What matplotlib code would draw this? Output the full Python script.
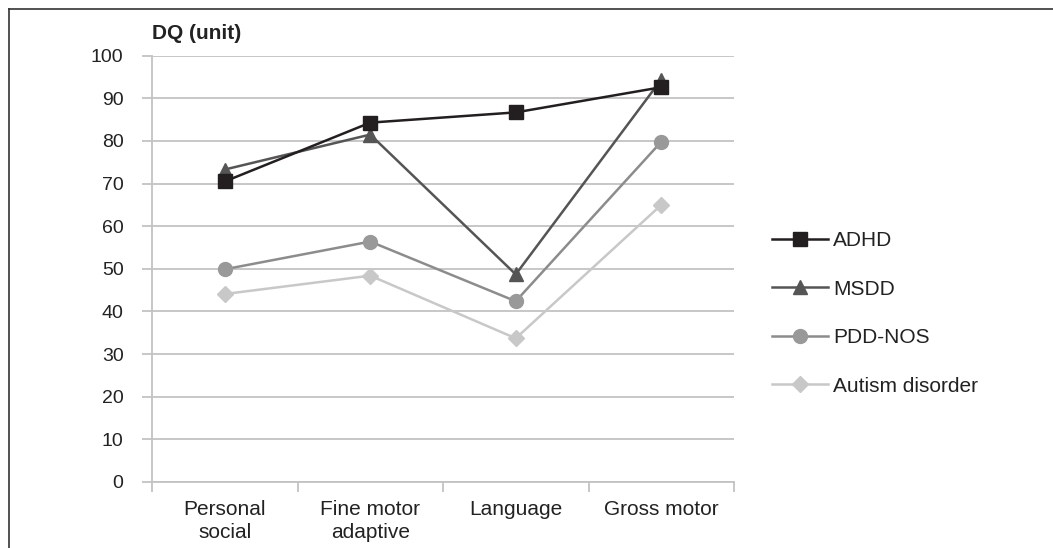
import matplotlib
matplotlib.use("Agg")
import matplotlib.pyplot as plt
from matplotlib.lines import Line2D

plt.rcParams['font.family'] = ['Liberation Sans', 'DejaVu Sans']

categories = ["Personal\nsocial", "Fine motor\nadaptive", "Language", "Gross motor"]
adhd = [70.5, 84.3, 86.7, 92.6]
msdd = [73.3, 81.5, 48.7, 94.4]
pdd_nos = [49.9, 56.4, 42.4, 79.8]
autism = [44.1, 48.4, 33.7, 65.0]
yticks = [0, 10, 20, 30, 40, 50, 60, 70, 80, 90, 100]

W, H = 1053, 548
fig = plt.figure(figsize=(W / 100, H / 100), dpi=100)

# outer frame (top and left only visible)
fig.add_artist(Line2D([9 / W, 1.0], [1 - 9 / H, 1 - 9 / H], color='#333333', lw=1.2, transform=fig.transFigure))
fig.add_artist(Line2D([9 / W, 9 / W], [0, 1 - 9 / H], color='#333333', lw=1.2, transform=fig.transFigure))

left, right, bottom, top = 152 / W, 734 / W, 1 - 482 / H, 1 - 55.7 / H
ax = fig.add_axes([left, bottom, right - left, top - bottom])

x = list(range(len(categories)))
series = [
    ("ADHD", adhd, '#231f20', '#231f20', 's', 10),
    ("MSDD", msdd, '#555555', '#555555', '^', 10),
    ("PDD-NOS", pdd_nos, '#8c8c8c', '#999999', 'o', 10),
    ("Autism disorder", autism, '#c8c8c8', '#c8c8c8', 'D', 8),
]
handles = []
for name, vals, lc, mc, mk, ms in reversed(series):
    h, = ax.plot(x, vals, color=lc, lw=1.8, marker=mk, markersize=ms,
                 markerfacecolor=mc, markeredgecolor=mc, label=name, zorder=3)
    handles.insert(0, h)

ax.set_ylim(0, 100)
ax.set_xlim(-0.5, len(categories) - 0.5)
ax.set_yticks(yticks)
ax.set_yticklabels([str(v) for v in yticks], fontsize=14, color='#222222')
ax.yaxis.grid(True, color='#c3c3c3', lw=1.3)
ax.set_axisbelow(True)
ax.tick_params(axis='y', length=7, width=1.3, color='#c3c3c3', pad=13.5)

ax.set_xticks([i - 0.5 for i in range(len(categories) + 1)])
ax.set_xticklabels([])
ax.set_xticks(x, minor=True)
ax.set_xticklabels(categories, minor=True, fontsize=15, color='#222222', linespacing=1.25)
ax.tick_params(axis='x', which='major', length=7, width=1.3, color='#c3c3c3')
ax.tick_params(axis='x', which='minor', length=0, pad=13)

for s in ['top', 'right']:
    ax.spines[s].set_visible(False)
for s in ['left', 'bottom']:
    ax.spines[s].set_color('#c3c3c3')
    ax.spines[s].set_linewidth(1.3)

fig.text(152 / W, 1 - 39 / H, "DQ (unit)", fontsize=15, fontweight='bold', va='baseline', ha='left', color='#222222')

leg = fig.legend(handles=handles, loc='upper left', bbox_to_anchor=(772 / W, 1 - 231 / H),
                 frameon=False, fontsize=15, handlelength=2.69, handletextpad=0.25,
                 labelspacing=1.42, borderaxespad=0, borderpad=0)
for t in leg.get_texts():
    t.set_color('#222222')

fig.savefig("out.png", dpi=100)
